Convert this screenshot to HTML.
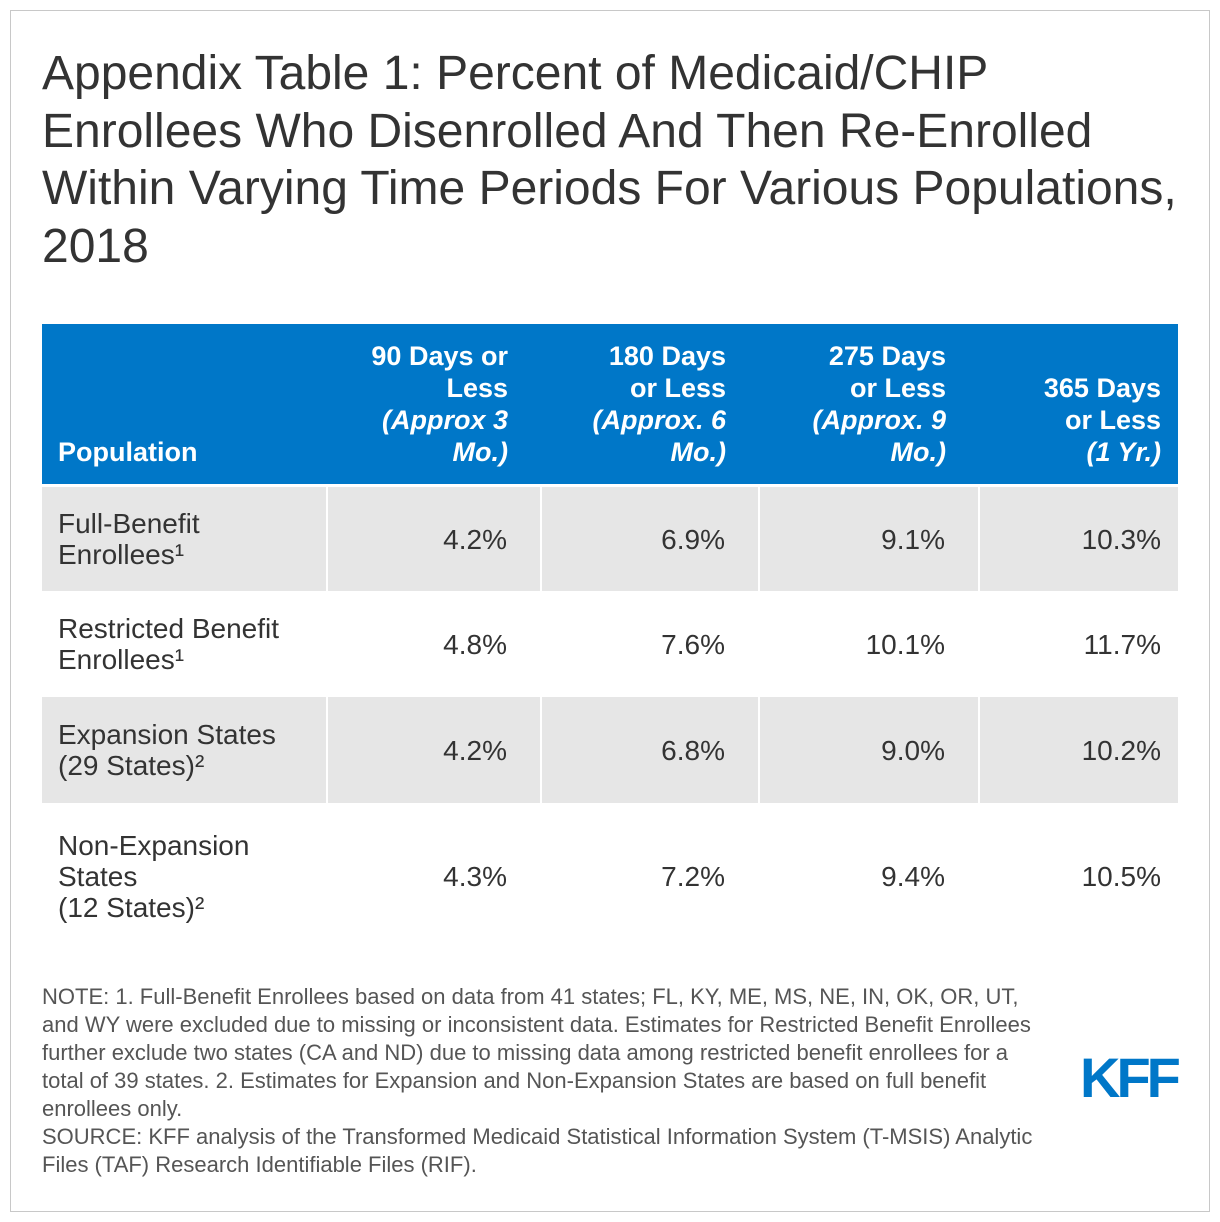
<!DOCTYPE html>
<html><head><meta charset="utf-8">
<style>
html,body{margin:0;padding:0;background:#fff;}
body{width:1220px;height:1222px;position:relative;font-family:"Liberation Sans",Arial,sans-serif;overflow:hidden;}
.frame{position:absolute;left:10px;top:10px;width:1198px;height:1200px;border:1px solid #c8c8c8;}
h1{position:absolute;left:42px;top:45px;margin:0;width:1170px;font-weight:normal;font-size:48px;line-height:57.5px;color:#333;white-space:nowrap;}
table{position:absolute;left:42px;top:324px;border-collapse:collapse;width:1136px;table-layout:fixed;}
th{background:#0077c8;color:#fff;font-size:27px;line-height:32px;font-weight:bold;text-align:right;vertical-align:bottom;padding:0 33px 16px 0;height:144px;white-space:nowrap;}
th.first{text-align:left;padding-left:16px;}
th.last{padding-right:17px;}
th i{font-style:italic;}
td{font-size:28px;line-height:31px;color:#333;text-align:right;padding:0 33px 0 0;vertical-align:middle;white-space:nowrap;}
td.first{text-align:left;padding-left:16px;}
td.last{padding-right:17px;}
tr.g td{background:#e6e6e6;border-left:2px solid #fff;}
tr.g td.first{border-left:none;}
tr.w td{background:#fff;border-left:2px solid #fff;}
tr.w td.first{border-left:none;}
tr.sp td{height:3px;padding:0;background:#fff;}
.notes{position:absolute;left:42px;top:983px;width:1040px;font-size:22px;line-height:28px;color:#555;white-space:nowrap;}
.logo{position:absolute;left:1080px;top:1045px;font-size:56px;font-weight:bold;color:#0077c8;letter-spacing:-4px;font-family:"Liberation Sans",sans-serif;}
</style></head>
<body>
<div class="frame"></div>
<h1>Appendix Table 1: Percent of Medicaid/CHIP<br>Enrollees Who Disenrolled And Then Re-Enrolled<br>Within Varying Time Periods For Various Populations,<br>2018</h1>
<table>
<colgroup><col style="width:285px"><col style="width:214px"><col style="width:218px"><col style="width:220px"><col style="width:199px"></colgroup>
<tr>
<th class="first">Population</th>
<th>90 Days or<br>Less<br><i>(Approx 3<br>Mo.)</i></th>
<th>180 Days<br>or Less<br><i>(Approx. 6<br>Mo.)</i></th>
<th>275 Days<br>or Less<br><i>(Approx. 9<br>Mo.)</i></th>
<th class="last">365 Days<br>or Less<br><i>(1 Yr.)</i></th>
</tr>
<tr class="sp"><td colspan="5"></td></tr>
<tr class="g" style="height:104px">
<td class="first">Full-Benefit<br>Enrollees¹</td><td>4.2%</td><td>6.9%</td><td>9.1%</td><td class="last">10.3%</td></tr>
<tr class="w" style="height:106px">
<td class="first">Restricted Benefit<br>Enrollees¹</td><td>4.8%</td><td>7.6%</td><td>10.1%</td><td class="last">11.7%</td></tr>
<tr class="g" style="height:106px">
<td class="first">Expansion States<br>(29 States)²</td><td>4.2%</td><td>6.8%</td><td>9.0%</td><td class="last">10.2%</td></tr>
<tr class="w" style="height:146px">
<td class="first">Non-Expansion<br>States<br>(12 States)²</td><td>4.3%</td><td>7.2%</td><td>9.4%</td><td class="last">10.5%</td></tr>
</table>
<div class="notes">NOTE: 1. Full-Benefit Enrollees based on data from 41 states; FL, KY, ME, MS, NE, IN, OK, OR, UT,<br>and WY were excluded due to missing or inconsistent data. Estimates for Restricted Benefit Enrollees<br>further exclude two states (CA and ND) due to missing data among restricted benefit enrollees for a<br>total of 39 states. 2. Estimates for Expansion and Non-Expansion States are based on full benefit<br>enrollees only.<br>SOURCE: KFF analysis of the Transformed Medicaid Statistical Information System (T-MSIS) Analytic<br>Files (TAF) Research Identifiable Files (RIF).</div>
<div class="logo">KFF</div>
</body></html>
